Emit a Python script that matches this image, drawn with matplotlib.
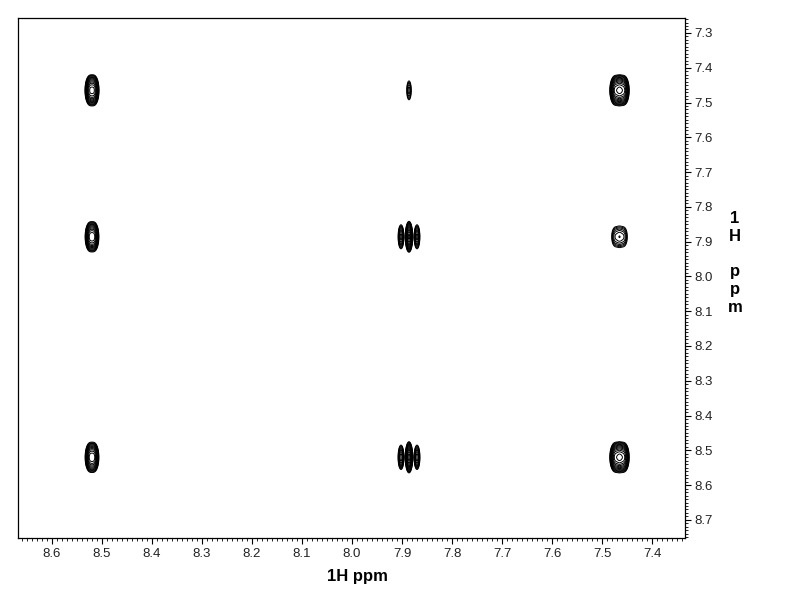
import numpy as np
import matplotlib
matplotlib.use("Agg")
import matplotlib.pyplot as plt
from matplotlib.ticker import MultipleLocator, FormatStrFormatter

# ---- data: proton shifts (ppm), F2 multiplet patterns, cross-peak intensities ----
shifts = [8.520, 7.886, 7.465]                     # protons A, B, C
f2_offsets = [[-0.004, 0.004],                      # A: doublet (barely resolved)
              [-0.016, 0.0, 0.016],                 # B: triplet
              [-0.009, 0.0, 0.009]]                 # C: triplet (unresolved)
f2_weights = [[1.0, 1.0],
              [0.3, 1.0, 0.3],
              [0.8, 1.0, 0.8]]
f2_widths = [0.0042, 0.0030, 0.0045]
f1_width = 0.018
# rows: F1 (y) shift, cols: F2 (x) shift
row_shifts = [7.465, 7.886, 8.520]
col_shifts = [8.520, 7.886, 7.465]
cross = [[1.00, 0.14, 1.00],     # y = 7.465
         [0.85, 0.95, 0.20],     # y = 7.886
         [0.85, 1.00, 1.00]]     # y = 8.520

x_ticks = [8.6, 8.5, 8.4, 8.3, 8.2, 8.1, 8.0, 7.9, 7.8, 7.7, 7.6, 7.5, 7.4]
y_ticks = [7.3, 7.4, 7.5, 7.6, 7.7, 7.8, 7.9, 8.0, 8.1, 8.2, 8.3, 8.4, 8.5, 8.6, 8.7]

# ---- build the 2D spectrum ----
x = np.arange(7.33, 8.67, 0.0007)
y = np.arange(7.25, 8.76, 0.0015)
X, Y = np.meshgrid(x, y)

def f2_profile(i, xv):
    p = np.zeros_like(xv)
    for off, w in zip(f2_offsets[i], f2_weights[i]):
        p += w * np.exp(-0.5 * ((xv - (shifts[i] + off)) / f2_widths[i]) ** 2)
    return p / p.max()

S = np.zeros_like(X)
for r, ys in enumerate(row_shifts):
    gy = np.exp(-0.5 * ((y - ys) / f1_width) ** 2)
    for c, xs in enumerate(col_shifts):
        fx = f2_profile(shifts.index(xs), x)
        S += cross[r][c] * np.outer(gy, fx)

levels = 0.045 * 1.28 ** np.arange(0, 14)

# ---- figure ----
fig = plt.figure(figsize=(7.92, 6.12), dpi=100)
ax = fig.add_axes([18/792, 1-538/612, (685-18)/792, (538-18)/612])
ax.contour(X, Y, S, levels=levels, colors='k', linewidths=0.7)

ax.set_xlim(8.668, 7.334)
ax.set_ylim(8.752, 7.257)

ax.yaxis.tick_right()
ax.set_xticks(x_ticks)
ax.set_yticks(y_ticks)
ax.xaxis.set_major_formatter(FormatStrFormatter('%.1f'))
ax.yaxis.set_major_formatter(FormatStrFormatter('%.1f'))
ax.xaxis.set_minor_locator(MultipleLocator(0.01))
ax.yaxis.set_minor_locator(MultipleLocator(0.01))
ax.tick_params(axis='both', which='major', direction='out', length=4, width=0.8,
               labelsize=9.5, labelcolor='#222222', pad=3)
ax.tick_params(axis='both', which='minor', direction='out', length=2, width=0.6)
ax.tick_params(axis='x', which='both', top=False)
ax.tick_params(axis='y', which='both', left=False)
for lab in ax.get_xticklabels() + ax.get_yticklabels():
    lab.set_family('Liberation Sans')

for sp in ax.spines.values():
    sp.set_linewidth(0.9)

fig.text(357/792, 1-577/612, '1H ppm', ha='center', va='center',
         fontsize=12, fontweight='bold', family='Liberation Sans')
fig.text(735/792, 1-211/612, '1\nH\n\np\np\nm', ha='center', va='top',
         fontsize=12, fontweight='bold', family='Liberation Sans', linespacing=1.23)

fig.savefig('out.png', dpi=100)
